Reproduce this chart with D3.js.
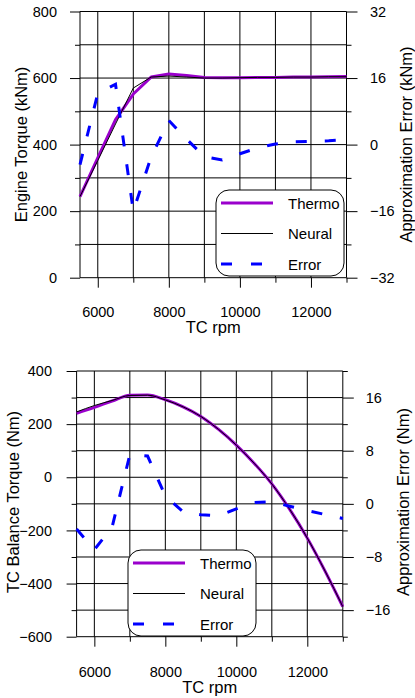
<!DOCTYPE html>
<html>
<head>
<meta charset="utf-8">
<script src="https://cdn.jsdelivr.net/npm/d3@7"></script>
<style>
  body { margin: 0; background: #fff; }
  svg { display: block; font-family: 'Liberation Sans', Arial, sans-serif; }
</style>
</head>
<body>
<div id="chart"></div>
<script>
'use strict';
// shared x values (TC rpm)
var rpm = [5500, 6000, 6500, 7000, 7500, 8000, 8500, 9000, 9500, 10000, 10500, 11000, 11500, 12000, 12500, 13000];
var rpmTicks = [6000, 8000, 10000, 12000];
var rpmMinor = [7000, 9000, 11000, 13000];

// top chart: engine torque (kNm) and approximation error
var engineThermo = [244, 360, 475, 552, 603, 612, 608, 602, 601, 601, 602, 602, 603, 603, 604, 605];
var engineNeural = [244, 352, 462, 570, 603, 606, 603, 600, 600, 601, 602, 602, 603, 603, 604, 604];
var engineError = [-4.8, 12.3, 14.5, -16, -3, 5.8, 1.3, -2.9, -3.7, -2.2, -0.8, 0.15, 0.65, 0.8, 0.9, 1.2];
var engineTicks = [0, 200, 400, 600, 800];
var engineMinor = [100, 300, 500, 700];
var engineErrTicks = [-32, -16, 0, 16, 32];
var engineErrMinor = [-24, -8, 8, 24];

// bottom chart: TC balance torque (Nm) and approximation error
var balanceThermo = [241, 263, 287, 309, 310, 292, 265, 229, 180, 121, 53, -25, -120, -229, -353, -487];
var balanceNeural = [246, 270, 289, 308, 309, 291, 265, 229, 180, 121, 53, -25, -120, -229, -353, -487];
var balanceError = [-3.8, -6.9, -3.5, 7.4, 7.2, 1.2, -1.2, -1.65, -1.8, -0.75, 0.2, 0.3, -0.35, -1.0, -1.6, -2.2];
var balanceTicks = [-600, -400, -200, 0, 200, 400];
var balanceMinor = [-500, -300, -100, 100, 300];
var balanceErrTicks = [-16, -8, 0, 8, 16];
var balanceErrMinor = [-20, -12, -4, 4, 12, 20];

var legendLabels = ['Thermo', 'Neural', 'Error'];

var purple = '#9a00cc', blue = '#0000ff';
var tickFont = 14.5, titleFont = 16.5;

var svg = d3.select('#chart').append('svg')
    .attr('width', 415)
    .attr('height', 698);

function cleanAxis(g) {
  g.select('.domain').remove();
  g.attr('font-size', tickFont).attr('font-family', null);
  g.selectAll('line').attr('stroke', '#000');
  g.selectAll('text').attr('fill', '#000');
}

function panel(p) {
  var g = svg.append('g');

  var x = d3.scaleLinear().domain([5500, 13000]).range([p.left, p.right]);
  var yL = d3.scaleLinear().domain(p.leftDomain).range([p.bottom, p.top]);
  var yR = d3.scaleLinear().domain(p.rightDomain).range([p.bottom, p.top]);

  // grid
  g.selectAll('.hgrid')
      .data(p.leftTicks.concat(p.leftMinor))
    .enter().append('line')
      .attr('x1', p.left).attr('x2', p.right)
      .attr('y1', function(d) { return yL(d); })
      .attr('y2', function(d) { return yL(d); })
      .attr('stroke', '#000').attr('stroke-width', 1);
  g.selectAll('.vgrid')
      .data([5500].concat(rpmTicks, rpmMinor))
    .enter().append('line')
      .attr('x1', function(d) { return x(d); })
      .attr('x2', function(d) { return x(d); })
      .attr('y1', p.top).attr('y2', p.bottom)
      .attr('stroke', '#000').attr('stroke-width', 1);

  // left axis
  g.append('g').attr('transform', 'translate(' + p.left + ',0)')
      .call(d3.axisLeft(yL).tickValues(p.leftTicks).tickSize(10).tickPadding(p.padL))
      .call(cleanAxis);
  g.append('g').attr('transform', 'translate(' + p.left + ',0)')
      .call(d3.axisLeft(yL).tickValues(p.leftMinor).tickSize(5).tickFormat(''))
      .call(cleanAxis);

  // right axis
  g.append('g').attr('transform', 'translate(' + p.right + ',0)')
      .call(d3.axisRight(yR).tickValues(p.rightTicks).tickSize(11).tickPadding(p.padR))
      .call(cleanAxis);
  g.append('g').attr('transform', 'translate(' + p.right + ',0)')
      .call(d3.axisRight(yR).tickValues(p.rightMinor).tickSize(5).tickFormat(''))
      .call(cleanAxis);

  // bottom axis
  g.append('g').attr('transform', 'translate(0,' + p.bottom + ')')
      .call(d3.axisBottom(x).tickValues(rpmTicks).tickSize(10).tickPadding(p.padB).tickFormat(d3.format('d')))
      .call(cleanAxis);
  g.append('g').attr('transform', 'translate(0,' + p.bottom + ')')
      .call(d3.axisBottom(x).tickValues(rpmMinor).tickSize(5).tickFormat(''))
      .call(cleanAxis);

  // series
  var lineL = d3.line()
      .x(function(d, i) { return x(rpm[i]); })
      .y(function(d) { return yL(d); })
      .curve(p.curve);
  var lineR = d3.line()
      .x(function(d, i) { return x(rpm[i]); })
      .y(function(d) { return yR(d); });

  g.append('path').datum(p.thermo)
      .attr('d', lineL).attr('fill', 'none')
      .attr('stroke', purple).attr('stroke-width', 3)
      .attr('stroke-linejoin', 'round');
  g.append('path').datum(p.neural)
      .attr('d', lineL).attr('fill', 'none')
      .attr('stroke', '#000').attr('stroke-width', 1);
  g.append('path').datum(p.error)
      .attr('d', lineR).attr('fill', 'none')
      .attr('stroke', blue).attr('stroke-width', 3)
      .attr('stroke-dasharray', '11,18');

  // axis titles
  g.append('text')
      .attr('transform', 'translate(' + p.titleLX + ',' + p.titleY + ') rotate(-90)')
      .attr('text-anchor', 'middle').attr('font-size', titleFont)
      .text(p.leftTitle);
  g.append('text')
      .attr('transform', 'translate(' + p.titleRX + ',' + p.titleY + ') rotate(-90)')
      .attr('text-anchor', 'middle').attr('font-size', titleFont)
      .text(p.rightTitle);
  g.append('text')
      .attr('x', (p.left + p.right) / 2).attr('y', p.titleBY)
      .attr('text-anchor', 'middle').attr('font-size', titleFont)
      .text('TC rpm');

  // legend
  var lg = g.append('g').attr('transform', 'translate(' + p.legX + ',' + p.legY + ')');
  lg.append('rect')
      .attr('width', 128).attr('height', 86).attr('rx', 13).attr('ry', 13)
      .attr('fill', '#fff').attr('stroke', '#000').attr('stroke-width', 1);
  var styles = [
    {stroke: purple, width: 3, dash: null},
    {stroke: '#000', width: 1, dash: null},
    {stroke: blue, width: 3, dash: '11,19'}
  ];
  legendLabels.forEach(function(label, i) {
    var yy = 13 + i * 30.5;
    lg.append('line')
        .attr('x1', 5).attr('x2', 57).attr('y1', yy).attr('y2', yy)
        .attr('stroke', styles[i].stroke).attr('stroke-width', styles[i].width)
        .attr('stroke-dasharray', styles[i].dash);
    lg.append('text')
        .attr('x', 72).attr('y', yy + 5.5)
        .attr('font-size', 15)
        .text(label);
  });
}

panel({
  left: 80, right: 346.5, top: 11.5, bottom: 277.7,
  leftDomain: [0, 800], rightDomain: [-32, 32],
  leftTicks: engineTicks, leftMinor: engineMinor,
  rightTicks: engineErrTicks, rightMinor: engineErrMinor,
  padL: 13, padR: 12.5, padB: 19,
  thermo: engineThermo, neural: engineNeural, error: engineError,
  curve: d3.curveLinear,
  leftTitle: 'Engine Torque (kNm)', rightTitle: 'Approximation Error (kNm)',
  titleLX: 26.7, titleRX: 411.8, titleY: 144.5, titleBY: 333,
  legX: 216, legY: 190
});

panel({
  left: 76.6, right: 342.8, top: 371, bottom: 636.7,
  leftDomain: [-600, 400], rightDomain: [-20, 20],
  leftTicks: balanceTicks, leftMinor: balanceMinor,
  rightTicks: balanceErrTicks, rightMinor: balanceErrMinor,
  padL: 14.6, padR: 12, padB: 20,
  thermo: balanceThermo, neural: balanceNeural, error: balanceError,
  curve: d3.curveMonotoneX,
  leftTitle: 'TC Balance Torque (Nm)', rightTitle: 'Approximation Error (Nm)',
  titleLX: 18.5, titleRX: 408.5, titleY: 502, titleBY: 693,
  legX: 128, legY: 550
});
</script>
</body>
</html>
